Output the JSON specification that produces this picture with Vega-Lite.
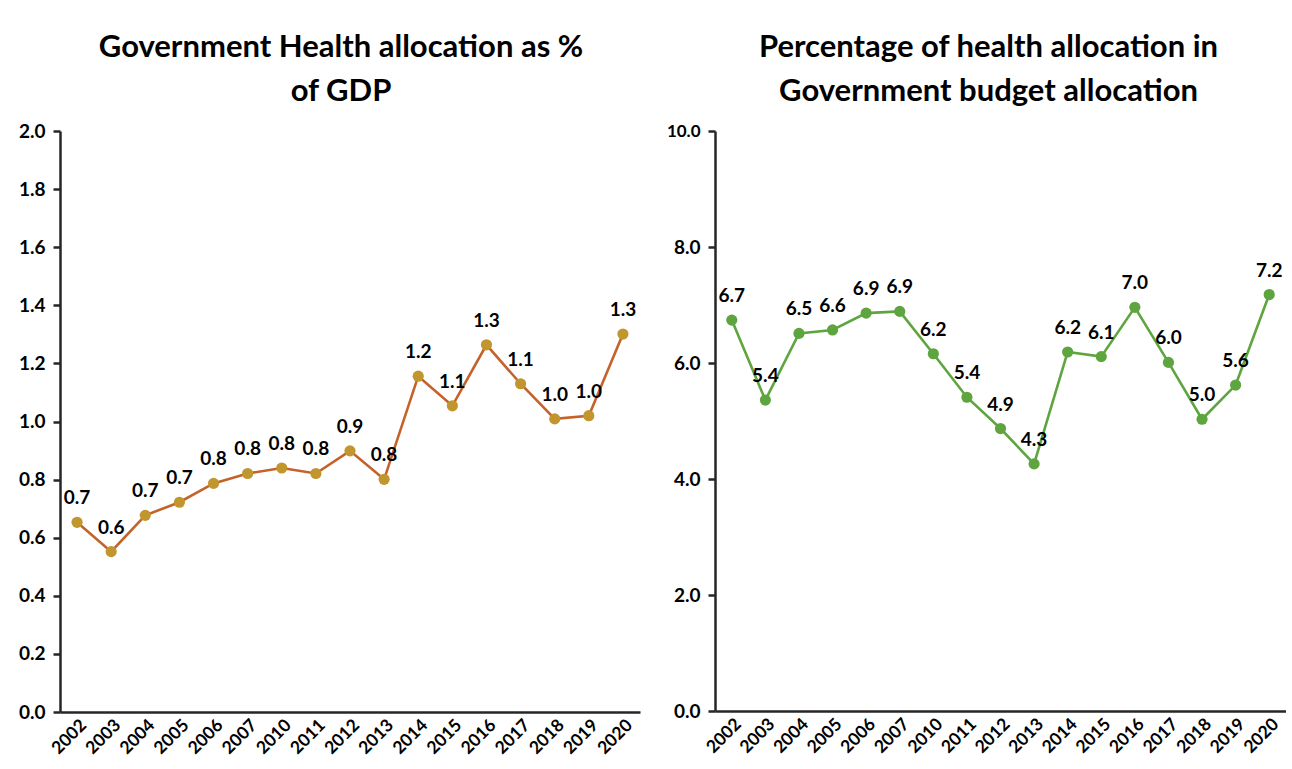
{
  "$schema": "https://vega.github.io/schema/vega-lite/v6.json",
  "autosize": {"type": "pad"},
  "padding": {"left": 18, "top": 32, "right": 0, "bottom": 0},
  "background": "white",
  "bounds": "flush",
  "spacing": 75,
  "data": {"values": [
    {"year": "2002", "gdp": 0.653, "budget": 6.74},
    {"year": "2003", "gdp": 0.552, "budget": 5.36},
    {"year": "2004", "gdp": 0.677, "budget": 6.51},
    {"year": "2005", "gdp": 0.722, "budget": 6.57},
    {"year": "2006", "gdp": 0.787, "budget": 6.86},
    {"year": "2007", "gdp": 0.821, "budget": 6.89},
    {"year": "2010", "gdp": 0.840, "budget": 6.16},
    {"year": "2011", "gdp": 0.821, "budget": 5.41},
    {"year": "2012", "gdp": 0.899, "budget": 4.87},
    {"year": "2013", "gdp": 0.801, "budget": 4.26},
    {"year": "2014", "gdp": 1.156, "budget": 6.19},
    {"year": "2015", "gdp": 1.054, "budget": 6.11},
    {"year": "2016", "gdp": 1.264, "budget": 6.96},
    {"year": "2017", "gdp": 1.130, "budget": 6.01},
    {"year": "2018", "gdp": 1.009, "budget": 5.03},
    {"year": "2019", "gdp": 1.020, "budget": 5.62},
    {"year": "2020", "gdp": 1.301, "budget": 7.18}
  ]},
  "config": {
    "font": "Lato",
    "view": {"stroke": null},
    "axis": {
      "domainColor": "#262626", "domainWidth": 2.5,
      "tickColor": "#262626", "tickWidth": 2.5,
      "labelFont": "Lato", "labelFontWeight": "bold", "labelFontSize": 19, "labelColor": "#000000",
      "grid": false, "title": null
    },
    "title": {"font": "Lato", "fontSize": 31, "fontWeight": "bold", "color": "#000000", "lineHeight": 44, "anchor": "middle", "offset": 14}
  },
  "hconcat": [
    {
      "width": 580, "height": 581,
      "title": {"text": ["Government Health allocation as %", "of GDP"], "dx": -9},
      "encoding": {
        "x": {"field": "year", "type": "ordinal", "sort": null,
              "axis": {"labelAngle": -45, "ticks": false, "labelPadding": 4, "labelFontSize": 17.5}}
      },
      "layer": [
        {
          "mark": {"type": "line", "color": "#C5622A", "strokeWidth": 2.6,
                   "point": {"filled": true, "color": "#C2962E", "size": 125, "opacity": 1}},
          "encoding": {
            "y": {"field": "gdp", "type": "quantitative", "scale": {"domain": [0, 2]},
                  "axis": {"values": [0, 0.2, 0.4, 0.6, 0.8, 1.0, 1.2, 1.4, 1.6, 1.8, 2.0], "format": ".1f", "tickSize": 7, "labelPadding": 8}}
          }
        },
        {
          "mark": {"type": "text", "dy": -24, "fontWeight": "bold", "fontSize": 19, "color": "#000000"},
          "encoding": {
            "y": {"field": "gdp", "type": "quantitative"},
            "text": {"field": "gdp", "type": "quantitative", "format": ".1f"}
          }
        }
      ]
    },
    {
      "width": 571, "height": 580,
      "title": {"text": ["Percentage of health allocation in", "Government budget allocation"], "dx": -12},
      "encoding": {
        "x": {"field": "year", "type": "ordinal", "sort": null,
              "axis": {"labelAngle": -45, "ticks": false, "labelPadding": 4, "labelFontSize": 17.5}}
      },
      "layer": [
        {
          "mark": {"type": "line", "color": "#5EA540", "strokeWidth": 2.6,
                   "point": {"filled": true, "color": "#5EA540", "size": 125, "opacity": 1}},
          "encoding": {
            "y": {"field": "budget", "type": "quantitative", "scale": {"domain": [0, 10]},
                  "axis": {"values": [0, 2, 4, 6, 8, 10], "format": ".1f", "tickSize": 7, "labelPadding": 8,
                           "labelFontSize": {"condition": {"test": "datum.value == 10", "value": 17}, "value": 19}}}
          }
        },
        {
          "mark": {"type": "text", "dy": -24, "fontWeight": "bold", "fontSize": 19, "color": "#000000"},
          "encoding": {
            "y": {"field": "budget", "type": "quantitative"},
            "text": {"field": "budget", "type": "quantitative", "format": ".1f"}
          }
        }
      ]
    }
  ]
}
